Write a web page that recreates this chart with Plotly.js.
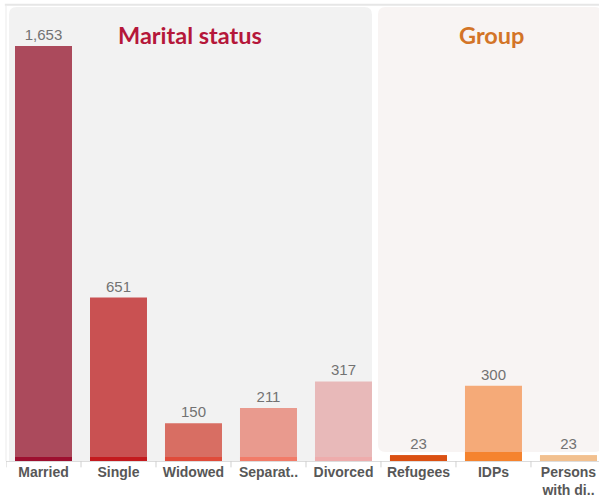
<!DOCTYPE html>
<html>
<head>
<meta charset="utf-8">
<script src="https://cdn.plot.ly/plotly-3.0.1.min.js"></script>
<style>html,body{margin:0;padding:0;background:#fff;}#chart{width:599px;height:498px;}</style>
</head>
<body>
<div id="chart"></div>
<script>
// Data
const categories = ["Married", "Single", "Widowed", "Separat..", "Divorced", "Refugees", "IDPs", "Persons<br>with di.."];
const values = [1653, 651, 150, 211, 317, 23, 300, 23];
const groups = ["Marital status", "Marital status", "Marital status", "Marital status", "Marital status", "Group", "Group", "Group"];

// Styles
const barColors   = ["#ab4a5c", "#c95152", "#d86e63", "#e99a8e", "#e8b9b9", "#db5113", "#f5aa78", "#f2c08f"];
const stripColors = ["#9e0f30", "#c41a1e", "#e04b3a", "#f27b68", "#eeacac", "#db5113", "#f5832e", "#f2c08f"];
const stripDepth = {"Marital status": 16, "Group": 36};

const idx = categories.map((c, i) => i);
const stripVals = values.map((v, i) => Math.min(v, stripDepth[groups[i]]));

const main = {
  type: "bar", x: idx, y: values, width: 0.76,
  marker: {color: barColors, line: {width: 0}},
  text: values.map(v => v.toLocaleString("en-US")),
  textposition: "outside", cliponaxis: false,
  textfont: {family: "Liberation Sans, Arial, sans-serif", size: 15, color: "#727272"},
  hoverinfo: "skip"
};
const strip = {
  type: "bar", x: idx, y: stripVals, width: 0.76,
  marker: {color: stripColors, line: {width: 0}},
  hoverinfo: "skip"
};

function roundRect(x0, x1, y0, y1, rx, ry, roundBottom) {
  let p = `M ${x0+rx},${y1} L ${x1-rx},${y1} Q ${x1},${y1} ${x1},${y1-ry} `;
  if (roundBottom) {
    p += `L ${x1},${y0+ry} Q ${x1},${y0} ${x1-rx},${y0} L ${x0+rx},${y0} Q ${x0},${y0} ${x0},${y0+ry} `;
  } else {
    p += `L ${x1},${y0} L ${x0},${y0} `;
  }
  p += `L ${x0},${y1-ry} Q ${x0},${y1} ${x0+rx},${y1} Z`;
  return p;
}
const yTop = 1808;

// boundary tick marks between categories
const tickShapes = idx.concat([idx.length]).map(i => ({
  type: "line", xref: "x", yref: "paper", x0: i - 0.5, x1: i - 0.5, y0: 0, y1: -0.014,
  line: {color: "#d0d0d0", width: 1}
}));

const layout = {
  width: 599, height: 498,
  margin: {l: 6, r: 0, t: 7, b: 37},
  paper_bgcolor: "#ffffff", plot_bgcolor: "#ffffff",
  barmode: "overlay", showlegend: false,
  xaxis: {
    range: [-0.5, 7.407], tickvals: idx, ticktext: categories,
    ticks: "", ticklabelstandoff: -2,
    showline: true, linecolor: "#dcdcdc", linewidth: 1, showgrid: false, zeroline: false,
    tickfont: {family: "Liberation Sans, Arial, sans-serif", size: 14, color: "#575757", weight: "bold"},
    fixedrange: true
  },
  yaxis: {range: [0, yTop], visible: false, showgrid: false, zeroline: false, fixedrange: true},
  shapes: [
    {type: "path", xref: "x", yref: "y", layer: "below", line: {width: 0}, fillcolor: "#f2f2f2",
     path: roundRect(-0.46, 4.38, 0, yTop, 0.1, 30, false)},
    {type: "path", xref: "x", yref: "y", layer: "below", line: {width: 0}, fillcolor: "#f8f4f3",
     path: roundRect(4.46, 7.45, 36, yTop, 0.1, 30, true)},
    {type: "line", xref: "paper", yref: "paper", x0: -0.002, x1: 1, y0: 1.005, y1: 1.005,
     line: {color: "#e6e6e6", width: 2}},
    {type: "line", xref: "paper", yref: "paper", x0: 0, x1: 0, y0: 0, y1: 1.005,
     line: {color: "#ebebeb", width: 1}}
  ].concat(tickShapes),
  annotations: [
    {text: "<b>Marital status</b>", xref: "x", yref: "paper", x: 1.953, y: 0.938, showarrow: false,
     xanchor: "center", yanchor: "middle",
     font: {family: "Lato, Open Sans, sans-serif", size: 23.5, color: "#b5173a"}},
    {text: "<b>Group</b>", xref: "x", yref: "paper", x: 5.967, y: 0.938, showarrow: false,
     xanchor: "center", yanchor: "middle",
     font: {family: "Lato, Open Sans, sans-serif", size: 23.5, color: "#d37427"}}
  ]
};
Plotly.newPlot("chart", [main, strip], layout, {displayModeBar: false, staticPlot: true});
</script>
</body>
</html>
